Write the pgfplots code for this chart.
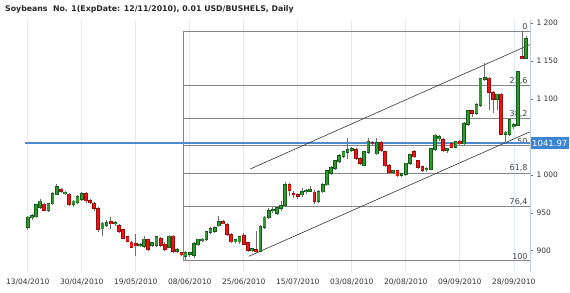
\documentclass[border=0pt]{standalone}
\usepackage{pgfplots}
\pgfplotsset{compat=1.18}
\usepackage{pgfplotstable}
\usepackage{fontspec}
\setmainfont{DejaVu Sans}
\definecolor{upfill}{HTML}{2E9A2E}
\definecolor{upedge}{HTML}{165A1A}
\definecolor{dnfill}{HTML}{F01414}
\definecolor{dnedge}{HTML}{9A0A0A}
\definecolor{wick}{HTML}{6E6E6E}
\definecolor{fib}{HTML}{858585}
\definecolor{gridc}{HTML}{E2ECF6}
\definecolor{levelblue}{HTML}{4C8BD0}
\definecolor{boxblue}{HTML}{3A84D2}
\definecolor{txt}{HTML}{333333}

\pgfplotstableread{
i O H L C
0 931 946 927 944
1 944 948 941 946
2 945 962 943 960
3 957 968 955 965
4 961 963 952 954
5 954 963 951 962
6 962 978 960 975
7 975 988 973 984
8 981 983 976 979
9 976 979 973 977
10 974 976 959 961
11 961 967 958 965
12 964 973 961 971
13 968 977 966 975
14 975 978 963 966
15 966 968 961 964
16 962 964 953 956
17 955 957 925 928
18 929 938 920 936
19 934 940 931 937
20 938 945 928 936
21 936 939 933 937
22 933 935 924 926
23 927 929 915 917
24 918 920 911 913
25 911 913 903 905
26 909 922 893 907
27 907 910 905 908
28 906 920 904 915
29 914 916 900 902
30 907 912 905 910
31 907 920 905 918
32 916 918 905 907
33 908 911 900 902
34 905 921 903 919
35 919 921 897 900
36 900 904 897 901
37 897 899 893 895
38 893 900 888 897
39 896 899 892 897
40 894 911 891 909
41 908 916 906 915
42 914 917 912 915
43 915 926 913 925
44 925 931 922 929
45 926 933 924 930
46 933 946 931 938
47 938 940 935 936
48 934 936 920 922
49 921 923 910 912
50 913 916 910 914
51 912 920 909 918
52 920 924 908 909
53 910 912 898 901
54 901 904 899 902
55 901 926 897 899
56 900 934 898 932
57 931 946 929 944
58 944 956 942 953
59 953 957 950 954
60 950 958 947 956
61 956 966 952 959
62 960 990 958 987
63 987 989 972 980
64 975 979 970 974
65 974 976 968 972
66 974 983 971 978
67 978 982 975 979
68 979 985 977 980
69 977 980 962 965
70 965 980 963 978
71 978 989 976 987
72 987 1007 985 1005
73 1002 1011 1000 1009
74 1009 1020 1007 1018
75 1018 1027 1016 1025
76 1025 1032 1022 1030
77 1030 1048 1021 1033
78 1033 1037 1030 1034
79 1033 1035 1020 1022
80 1021 1024 1013 1015
81 1013 1032 1011 1030
82 1030 1049 1028 1043
83 1042 1045 1039 1041
84 1028 1048 1026 1042
85 1042 1044 1030 1032
86 1030 1032 1010 1012
87 1012 1014 1002 1004
88 1004 1007 1001 1005
89 1005 1006 997 999
90 1000 1003 997 1001
91 1001 1016 999 1015
92 1015 1027 1013 1026
93 1030 1033 1022 1024
94 1018 1020 1008 1010
95 1010 1012 1004 1006
96 1007 1010 1004 1008
97 1008 1036 1006 1034
98 1034 1054 1032 1052
99 1048 1052 1044 1050
100 1046 1048 1030 1033
101 1033 1036 1029 1034
102 1041 1043 1035 1037
103 1037 1045 1035 1043
104 1043 1046 1039 1041
105 1041 1069 1039 1067
106 1067 1086 1065 1084
107 1084 1086 1076 1081
108 1081 1095 1079 1092
109 1092 1128 1090 1126
110 1126 1147 1124 1128
111 1127 1129 1085 1109
112 1108 1110 1082 1100
113 1100 1107 1085 1106
114 1106 1108 1052 1054
115 1054 1058 1041 1056
116 1054 1074 1051 1072
117 1064 1068 1061 1066
118 1066 1137 1064 1136
119 1155 1189 1152 1153
120 1154 1183 1153 1179
}\candles

\begin{document}
\begin{tikzpicture}
\useasboundingbox (0pt,0pt) rectangle (570pt,292pt);
\node[anchor=west, font=\bfseries\fontsize{7.8}{9}\selectfont, text=black!85, inner sep=0] at (5pt,283pt) {Soybeans~~No. 1(ExpDate: 12/11/2010), 0.01 USD/BUSHELS, Daily};
\begin{axis}[
  at={(25pt,20pt)}, anchor=south west,
  scale only axis, width=505pt, height=252pt,
  xmin=-0.65, xmax=120.9, ymin=872, ymax=1204,
  clip=false,
  axis x line*=bottom, axis y line*=right,
  x axis line style={draw=none},
  y axis line style={draw=gridc!70!gray, line width=0.6pt},
  xtick={0,13,...,117},
  xticklabels={13/04/2010,30/04/2010,19/05/2010,08/06/2010,25/06/2010,15/07/2010,03/08/2010,20/08/2010,09/09/2010,28/09/2010},
  xmajorgrids, grid style={draw=gridc, line width=0.6pt},
  xtick style={draw=none},
  ytick={900,950,1000,1050,1100,1150,1200},
  yticklabels={900,950,1 000,,1 100,1 150,1 200},
  ytick style={draw=wick, line width=0.5pt},
  tick align=outside, major tick length=3pt,
  ticklabel style={font=\fontsize{7.5}{8}\selectfont, text=txt},
]
% fibonacci levels
\addplot[fib, line width=0.5pt, forget plot] coordinates {(37.37,1189.5) (37.37,886.8)};
\addplot[fib, line width=0.9pt, forget plot] coordinates {(37.37,1189.5) (120.9,1189.5)};
\addplot[fib, line width=0.9pt, forget plot] coordinates {(37.37,1118.1) (120.9,1118.1)};
\addplot[fib, line width=0.9pt, forget plot] coordinates {(37.37,1073.9) (120.9,1073.9)};
\addplot[fib, line width=0.9pt, forget plot] coordinates {(37.37,1038.1) (120.9,1038.1)};
\addplot[fib, line width=0.9pt, forget plot] coordinates {(37.37,1002.4) (120.9,1002.4)};
\addplot[fib, line width=0.9pt, forget plot] coordinates {(37.37,958.3) (120.9,958.3)};
\addplot[fib, line width=0.9pt, forget plot] coordinates {(37.37,886.8) (120.9,886.8)};
\begin{scope}[every node/.style={anchor=south east, font=\fontsize{8}{9}\selectfont, text=black!75, inner sep=1pt}]
\node at (axis cs:120.6,1189.5) {0};
\node at (axis cs:120.6,1118.1) {23,6};
\node at (axis cs:120.6,1073.9) {38,2};
\node at (axis cs:120.6,1038.1) {50};
\node at (axis cs:120.6,1002.4) {61,8};
\node at (axis cs:120.6,958.3) {76,4};
\node at (axis cs:120.6,886.8) {100};
\end{scope}
% level line
\addplot[levelblue, line width=1.4pt, forget plot] coordinates {(-0.65,1041.97) (120.9,1041.97)};
% trend channel
\addplot[black!80, line width=0.6pt, forget plot] coordinates {(53.2,892.6) (120.85,1056.6)};
\addplot[black!80, line width=0.6pt, forget plot] coordinates {(53.6,1007.8) (120.85,1171.5)};
% wicks
\addplot[draw=none, mark=none, forget plot,
  error bars/.cd, y dir=both, y explicit, error mark=none,
  error bar style={draw=wick, line width=0.7pt}]
  table[x=i, y expr={(\thisrow{H}+\thisrow{L})/2}, y error expr={(\thisrow{H}-\thisrow{L})/2}] {\candles};
% up bodies
\addplot[draw=none, mark=none, forget plot,
  restrict expr to domain={\thisrow{C}-\thisrow{O}}{0:1000},
  error bars/.cd, y dir=both, y explicit, error mark=none,
  error bar style={draw=upedge, line width=3.7pt}]
  table[x=i, y expr={(\thisrow{O}+\thisrow{C})/2}, y error expr={abs(\thisrow{C}-\thisrow{O})/2+1.0}] {\candles};
\addplot[draw=none, mark=none, forget plot,
  restrict expr to domain={\thisrow{C}-\thisrow{O}}{0:1000},
  error bars/.cd, y dir=both, y explicit, error mark=none,
  error bar style={draw=upfill, line width=2.2pt}]
  table[x=i, y expr={(\thisrow{O}+\thisrow{C})/2}, y error expr={abs(\thisrow{C}-\thisrow{O})/2}] {\candles};
% down bodies
\addplot[draw=none, mark=none, forget plot,
  restrict expr to domain={\thisrow{C}-\thisrow{O}}{-1000:-0.01},
  error bars/.cd, y dir=both, y explicit, error mark=none,
  error bar style={draw=dnedge, line width=3.7pt}]
  table[x=i, y expr={(\thisrow{O}+\thisrow{C})/2}, y error expr={abs(\thisrow{C}-\thisrow{O})/2+1.0}] {\candles};
\addplot[draw=none, mark=none, forget plot,
  restrict expr to domain={\thisrow{C}-\thisrow{O}}{-1000:-0.01},
  error bars/.cd, y dir=both, y explicit, error mark=none,
  error bar style={draw=dnfill, line width=2.2pt}]
  table[x=i, y expr={(\thisrow{O}+\thisrow{C})/2}, y error expr={abs(\thisrow{C}-\thisrow{O})/2}] {\candles};
% value box
\node[fill=boxblue, text=white, font=\fontsize{8.5}{9}\selectfont, anchor=west, inner xsep=1.5pt, inner ysep=0pt, minimum height=12.5pt, minimum width=38pt, xshift=0.5pt] at (axis cs:120.9,1041.97) {1041.97};
\end{axis}
\end{tikzpicture}
\end{document}
